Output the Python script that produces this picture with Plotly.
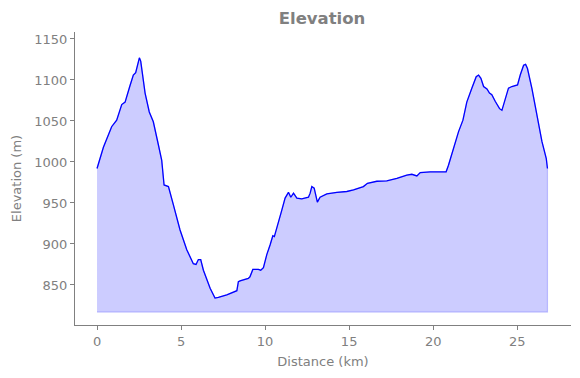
import plotly.graph_objects as go

distance_km = [0.0, 0.38, 0.87, 1.17, 1.47, 1.67, 1.96, 2.16, 2.30, 2.52, 2.60, 2.86, 3.11, 3.35, 3.65,
               3.85, 3.99, 4.25, 4.54, 4.94, 5.34, 5.73, 5.89, 6.03, 6.17, 6.33, 6.73, 7.02, 7.22,
               7.72, 8.32, 8.41, 8.51, 9.0, 9.1, 9.27, 9.6, 9.74, 9.9, 10.1, 10.3, 10.46, 10.55,
               10.7, 10.99, 11.19, 11.39, 11.53, 11.69, 11.89, 12.18, 12.58, 12.68, 12.78, 12.92,
               13.11, 13.27, 13.67, 14.27, 14.86, 15.26, 15.85, 16.09, 16.65, 17.24, 17.84, 18.43,
               18.73, 19.03, 19.23, 19.82, 20.42, 20.77, 20.91, 21.11, 21.31, 21.51, 21.77, 22.0,
               22.3, 22.56, 22.7, 22.84, 23.0, 23.2, 23.35, 23.49, 23.69, 23.95, 24.09, 24.29,
               24.48, 24.68, 24.88, 25.02, 25.18, 25.38, 25.5, 25.61, 25.87, 26.17, 26.47, 26.73,
               26.8]
elevation_m = [992, 1018, 1043, 1051, 1070, 1073, 1093, 1106, 1109, 1127, 1123, 1084, 1061, 1049, 1021,
               1002, 972, 970, 948, 917, 893, 876, 875, 881, 881, 868, 846, 834, 835,
               838, 843, 854, 855, 858, 860, 869, 869, 868, 871, 887, 899, 910, 909,
               919, 941, 956, 963, 957, 962, 956, 955, 957, 962, 970, 968,
               951, 957, 961, 963, 964, 966, 970, 974, 976.5, 977, 980, 984,
               985, 983, 987, 988, 988, 988, 996, 1010, 1025, 1037, 1051, 1073,
               1090, 1104, 1106, 1102, 1092, 1089, 1084, 1082, 1074, 1065, 1063, 1077,
               1090, 1092, 1093, 1094, 1106, 1118, 1119, 1114, 1090, 1057, 1025, 1004,
               992]
baseline_m = 817

GRAY = "#808080"
FONT = "DejaVu Sans"

fig = go.Figure()
fig.add_trace(go.Scatter(
    x=distance_km + [distance_km[-1], distance_km[0]],
    y=elevation_m + [baseline_m, baseline_m],
    fill="toself", fillcolor="rgba(0,0,255,0.2)",
    line=dict(color="rgba(0,0,255,0.2)", width=1.2),
    mode="lines", hoverinfo="skip", showlegend=False,
))
fig.add_trace(go.Scatter(
    x=distance_km, y=elevation_m, mode="lines",
    line=dict(color="blue", width=1.3), showlegend=False,
))
fig.update_layout(
    width=572, height=370,
    margin=dict(l=67, r=9, t=24, b=53),
    paper_bgcolor="white", plot_bgcolor="white",
    font=dict(family=FONT, color=GRAY, size=13),
    title=dict(text="<b>Elevation</b>", x=0.549, xanchor="center",
               y=0.973, yanchor="middle", font=dict(size=16.5, color=GRAY, family=FONT)),
    xaxis=dict(range=[-1.31, 28.2], tickvals=[0, 5, 10, 15, 20, 25], automargin=False,
               showgrid=False, zeroline=False, showline=True, linecolor=GRAY, linewidth=1,
               ticks="outside", ticklen=4, tickcolor=GRAY, tickfont=dict(size=13, color=GRAY),
               title=dict(text="Distance (km)", font=dict(size=13, color=GRAY), standoff=9)),
    yaxis=dict(range=[801.2, 1158.5], tickvals=[850, 900, 950, 1000, 1050, 1100, 1150], automargin=False,
               showgrid=False, zeroline=False, showline=True, linecolor=GRAY, linewidth=1,
               ticks="outside", ticklen=4, tickcolor=GRAY, tickfont=dict(size=13, color=GRAY),
               title=dict(text="Elevation (m)", font=dict(size=13, color=GRAY), standoff=9)),
)
fig.write_html("out.html")
